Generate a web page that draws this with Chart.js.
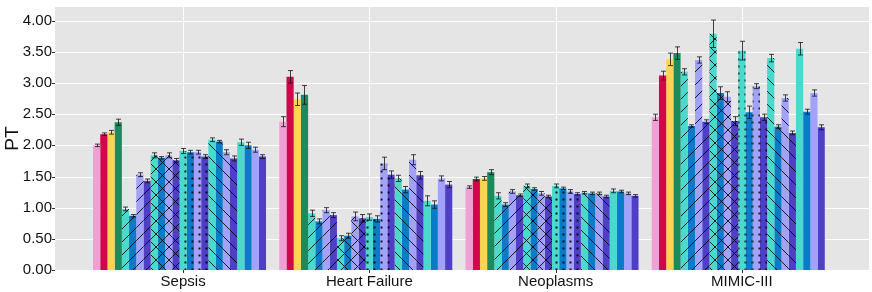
<!DOCTYPE html>
<html>
<head>
<meta charset="utf-8">
<script src="https://cdn.jsdelivr.net/npm/chart.js@4/dist/chart.umd.min.js"></script>
<style>
  html, body { margin: 0; padding: 0; background: #fff; }
  #wrap { width: 872px; height: 292px; position: relative; }
</style>
</head>
<body>
<div id="wrap"><canvas id="ptChart"></canvas></div>
<script>
// Categories and tick labels
const categories = ['Sepsis', 'Heart Failure', 'Neoplasms', 'MIMIC-III'];
const yTicks = [0, 0.5, 1, 1.5, 2, 2.5, 3, 3.5, 4];

// PT values, one entry per series (24 bars per group)
const sepsisPT       = [2.00, 2.18, 2.21, 2.37, 0.98, 0.87, 1.53, 1.43, 1.84, 1.80, 1.84, 1.76, 1.91, 1.89, 1.89, 1.82, 2.09, 2.06, 1.89, 1.79, 2.05, 2.00, 1.93, 1.82];
const heartFailurePT = [2.38, 3.10, 2.74, 2.81, 0.91, 0.78, 0.96, 0.88, 0.51, 0.55, 0.86, 0.83, 0.85, 0.82, 1.71, 1.53, 1.47, 1.29, 1.77, 1.52, 1.11, 1.05, 1.47, 1.37];
const neoplasmsPT    = [1.33, 1.46, 1.47, 1.57, 1.19, 1.05, 1.26, 1.20, 1.35, 1.30, 1.23, 1.18, 1.35, 1.31, 1.26, 1.22, 1.24, 1.23, 1.23, 1.18, 1.27, 1.26, 1.23, 1.19];
const mimicPT        = [2.45, 3.12, 3.38, 3.48, 3.18, 2.31, 3.37, 2.38, 3.79, 2.84, 2.78, 2.39, 3.52, 2.53, 2.95, 2.45, 3.40, 2.30, 2.76, 2.20, 3.55, 2.54, 2.84, 2.29];

// Error bar half-widths
const sepsisErr       = [0.02, 0.02, 0.03, 0.05, 0.03, 0.02, 0.03, 0.03, 0.04, 0.02, 0.04, 0.03, 0.04, 0.03, 0.03, 0.03, 0.03, 0.02, 0.04, 0.04, 0.05, 0.05, 0.04, 0.03];
const heartFailureErr = [0.08, 0.10, 0.10, 0.15, 0.05, 0.04, 0.04, 0.04, 0.04, 0.04, 0.07, 0.06, 0.05, 0.05, 0.10, 0.06, 0.05, 0.05, 0.08, 0.06, 0.08, 0.06, 0.04, 0.05];
const neoplasmsErr    = [0.02, 0.03, 0.03, 0.04, 0.05, 0.03, 0.03, 0.02, 0.03, 0.02, 0.03, 0.02, 0.03, 0.02, 0.03, 0.02, 0.02, 0.02, 0.02, 0.02, 0.03, 0.02, 0.02, 0.02];
const mimicErr        = [0.05, 0.07, 0.10, 0.10, 0.05, 0.02, 0.05, 0.03, 0.22, 0.10, 0.08, 0.07, 0.15, 0.10, 0.04, 0.05, 0.06, 0.03, 0.05, 0.03, 0.10, 0.04, 0.05, 0.04];

// Series styling
const baseColors = ['#f29fd6', '#d1074c', '#ffd54f', '#1b8a5c'];
const quadColors = ['#4bd8cd', '#0a7bc9', '#a2a2fb', '#4f3ec6'];
const quadPatterns = ['/', 'x', '.', '\\', ''];

function makePattern(color, kind) {
  const s = kind === '.' ? 7 : 13;
  const c = document.createElement('canvas');
  c.width = s; c.height = s;
  const g = c.getContext('2d');
  g.fillStyle = color;
  g.fillRect(0, 0, s, s);
  g.strokeStyle = 'rgba(0,0,0,0.85)';
  g.fillStyle = 'rgba(0,0,0,0.9)';
  g.lineWidth = 1;
  const fwd = () => {
    g.beginPath();
    g.moveTo(-1, s + 1); g.lineTo(s + 1, -1);
    g.moveTo(-2, 2); g.lineTo(2, -2);
    g.moveTo(s - 2, s + 2); g.lineTo(s + 2, s - 2);
    g.stroke();
  };
  const back = () => {
    g.beginPath();
    g.moveTo(-1, -1); g.lineTo(s + 1, s + 1);
    g.moveTo(s - 2, -2); g.lineTo(s + 2, 2);
    g.moveTo(-2, s - 2); g.lineTo(2, s + 2);
    g.stroke();
  };
  if (kind === '/') fwd();
  if (kind === '\\') back();
  if (kind === 'x') { fwd(); back(); }
  if (kind === '.') g.fillRect(2.5, 2.5, 2, 2);
  return g.createPattern(c, 'repeat');
}

const seriesFill = [...baseColors];
quadPatterns.forEach(p => {
  quadColors.forEach(col => seriesFill.push(p ? makePattern(col, p) : col));
});

const datasets = seriesFill.map((fill, i) => ({
  label: 'series ' + (i + 1),
  data: [sepsisPT[i], heartFailurePT[i], neoplasmsPT[i], mimicPT[i]],
  errors: [sepsisErr[i], heartFailureErr[i], neoplasmsErr[i], mimicErr[i]],
  backgroundColor: fill,
  borderWidth: 0,
  barPercentage: 1.0,
  categoryPercentage: 0.9676,
}));
// an empty trailing slot: the groups in the picture sit half a bar left of centre
datasets.push({
  label: '',
  data: [null, null, null, null],
  errors: [null, null, null, null],
  backgroundColor: 'rgba(0,0,0,0)',
  borderWidth: 0,
  barPercentage: 1.0,
  categoryPercentage: 0.9676,
});

// gray ggplot-like panel behind the bars
const panelPlugin = {
  id: 'panel',
  beforeDatasetsDraw(chart) {
    const { ctx, chartArea, scales } = chart;
    const left = 55, right = 869;
    ctx.save();
    ctx.fillStyle = '#e5e5e5';
    ctx.fillRect(left, chartArea.top, right - left, chartArea.bottom - chartArea.top);
    ctx.strokeStyle = '#ffffff';
    ctx.lineWidth = 1;
    yTicks.forEach(v => {
      const y = Math.round(scales.y.getPixelForValue(v)) + 0.5;
      ctx.beginPath(); ctx.moveTo(left, y); ctx.lineTo(right, y); ctx.stroke();
    });
    categories.forEach((c, i) => {
      const x = Math.round(scales.x.getPixelForValue(i)) + 0.5;
      ctx.beginPath(); ctx.moveTo(x, chartArea.top); ctx.lineTo(x, chartArea.bottom); ctx.stroke();
    });
    // axis ticks
    ctx.strokeStyle = '#333333';
    yTicks.forEach(v => {
      const y = Math.round(scales.y.getPixelForValue(v)) + 0.5;
      ctx.beginPath(); ctx.moveTo(left - 3, y); ctx.lineTo(left, y); ctx.stroke();
    });
    categories.forEach((c, i) => {
      const x = Math.round(scales.x.getPixelForValue(i)) + 0.5;
      ctx.beginPath(); ctx.moveTo(x, chartArea.bottom); ctx.lineTo(x, chartArea.bottom + 3); ctx.stroke();
    });
    ctx.restore();
  }
};

// error bars on top of each bar
const errorBarPlugin = {
  id: 'errorBars',
  afterDatasetsDraw(chart) {
    const { ctx, scales } = chart;
    ctx.save();
    ctx.strokeStyle = 'rgba(20,20,20,0.8)';
    ctx.lineWidth = 1;
    chart.data.datasets.forEach((ds, di) => {
      const meta = chart.getDatasetMeta(di);
      meta.data.forEach((bar, j) => {
        const v = ds.data[j], e = ds.errors[j];
        if (v == null || e == null) return;
        const yTop = scales.y.getPixelForValue(v + e);
        const yBot = scales.y.getPixelForValue(v - e);
        const x = Math.round(bar.x) + 0.5;
        ctx.beginPath();
        ctx.moveTo(x, yTop); ctx.lineTo(x, yBot);
        ctx.moveTo(x - 2.5, yTop); ctx.lineTo(x + 2.5, yTop);
        ctx.moveTo(x - 2.5, yBot); ctx.lineTo(x + 2.5, yBot);
        ctx.stroke();
      });
    });
    ctx.restore();
  }
};

const ctx = document.getElementById('ptChart').getContext('2d');

const ptChart = new Chart(ctx, {
  type: 'bar',
  data: { labels: categories, datasets: datasets },
  options: {
    responsive: true,
    maintainAspectRatio: false,
    animation: false,
    layout: { padding: { top: 7, right: 37, bottom: 0, left: 0 } },
    scales: {
      x: {
        grid: { display: false, drawTicks: false },
        border: { display: false },
        ticks: {
          color: '#111111',
          font: { family: 'Liberation Sans', size: 15 },
          padding: 3,
        },
        afterFit: s => { s.height = 22; s.paddingLeft = 0; s.paddingRight = 0; }
      },
      y: {
        min: 0,
        max: 4.22,
        grid: { display: false, drawTicks: false },
        border: { display: false },
        ticks: {
          color: '#111111',
          font: { family: 'Liberation Sans', size: 15 },
          padding: 38,
          callback: v => v.toFixed(2)
        },
        afterBuildTicks: s => { s.ticks = yTicks.map(v => ({ value: v })); },
        afterFit: s => { s.width = 90; s.paddingTop = 0; s.paddingBottom = 0; },
        title: {
          display: true,
          text: 'PT',
          color: '#111111',
          font: { family: 'Liberation Sans', size: 19 },
          padding: { top: 1, bottom: 0 }
        }
      }
    },
    plugins: {
      legend: { display: false },
      tooltip: { enabled: false }
    }
  },
  plugins: [panelPlugin, errorBarPlugin]
});
</script>
</body>
</html>
